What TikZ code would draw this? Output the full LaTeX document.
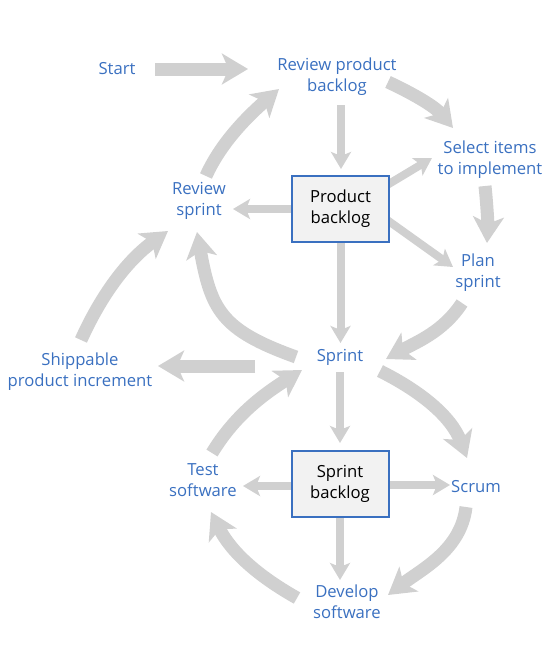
\documentclass[tikz,border=0pt]{standalone}
\usepackage{fontspec}
\setmainfont{Open Sans}
\usetikzlibrary{arrows.meta,backgrounds}

\definecolor{flowblue}{RGB}{58,112,192}
\definecolor{flowgrey}{RGB}{208,208,208}
\definecolor{boxfill}{RGB}{242,242,242}

\tikzset{every picture/.style={line width=0.75pt}}
\tikzset{
	lbl/.style={text=flowblue, align=center, inner sep=2pt, font=\fontsize{12.5}{15.75}\selectfont},
	backlog/.style={draw=flowblue, line width=1.5pt, fill=boxfill, align=center, outer sep=0pt,
		minimum width=72.75pt, minimum height=49.5pt, font=\fontsize{12.5}{15.75}\selectfont},
	bigarrow/.style={draw=flowgrey, line width=9.75pt, -{Stealth[length=19.5pt,width=23pt,inset=5pt]}},
	smallarrow/.style={draw=flowgrey, line width=6pt, -{Stealth[length=12.75pt,width=15pt,inset=3pt]}}
}

\begin{document}
\begin{tikzpicture}[x=0.75pt,y=0.75pt,yscale=-1,xscale=1]
	\useasboundingbox (0,0) rectangle (553,647);

	% Text Node
	\draw (117,69) node [lbl] (start) {Start};
	% Text Node
	\draw (337,77) node [lbl] (rpb) {Review product\\backlog};
	% Text Node
	\draw (490,160) node [lbl] (sel) {Select items\\to implement};
	% Text Node
	\draw (199,201) node [lbl] (rs) {Review\\sprint};
	% Text Node
	\draw (478,273) node [lbl] (plan) {Plan\\sprint};
	% Text Node
	\draw (340,357) node [lbl] (sprint) {Sprint};
	% Text Node
	\draw (80,372) node [lbl] (ship) {Shippable\\product increment};
	% Text Node
	\draw (203,480) node [lbl] (test) {Test\\software};
	% Text Node
	\draw (476,487) node [lbl] (scrum) {Scrum};
	% Text Node
	\draw (347,602) node [lbl] (dev) {Develop\\software};
	% Shape: Rectangle
	\draw (340.5,209) node [backlog] (pb) {Product\\backlog};
	% Shape: Rectangle
	\draw (340,484) node [backlog] (sb) {Sprint\\backlog};

	\begin{scope}[on background layer]
	%Straight Lines
	\draw [bigarrow] ([shift={(38,0)}]start.center) -- ([shift={(-89,-8)}]rpb.center);
	\draw [bigarrow] ([shift={(-85,9)}]sprint.center) -- ([shift={(78,-6)}]ship.center);
	\draw [smallarrow] ([shift={(4,28)}]rpb.center) -- ([shift={(0.5,-7)}]pb.north);
	\draw [smallarrow] (pb.center) -- ([shift={(0.5,-14)}]sprint.center);
	\draw [smallarrow] ([shift={(0,15)}]sprint.center) -- ([shift={(0,-8)}]sb.north);
	\draw [smallarrow] ([shift={(-40,0)}]pb.center) -- ([shift={(34,8)}]rs.center);
	\draw [smallarrow] ([shift={(20,-8)}]pb.center) -- ([shift={(-58,-2)}]sel.center);
	\draw [smallarrow] ([shift={(20,-8)}]pb.center) -- ([shift={(-25,-6)}]plan.center);
	\draw [smallarrow] ([shift={(-40,2)}]sb.center) -- ([shift={(40,6)}]test.center);
	\draw [smallarrow] ([shift={(40,1)}]sb.center) -- ([shift={(-26,-2)}]scrum.center);
	\draw [smallarrow] ([shift={(0,20)}]sb.center) -- ([shift={(-7,-22)}]dev.center);

	%Curve Lines
	\draw [bigarrow] ([shift={(7,-25)}]rs.center) .. controls (221.5,141.3) and (250.3,113.9) .. ([shift={(-58,12)}]rpb.center);
	\draw [bigarrow] ([shift={(51,5)}]rpb.center) .. controls (413.4,93.8) and (435,106.6) .. ([shift={(-37,-32)}]sel.center);
	\draw [bigarrow] ([shift={(-5,26)}]sel.center) .. controls (487,205) and (488,225) .. ([shift={(9,-30)}]plan.center);
	\draw [bigarrow] ([shift={(-16,30)}]plan.center) .. controls (443,332) and (416.5,342) .. ([shift={(46,2)}]sprint.center);
	\draw [bigarrow] ([shift={(-44,0)}]sprint.center) .. controls (221,330) and (211,310) .. ([shift={(-2,31)}]rs.center);
	\draw [bigarrow] ([shift={(40,14)}]sprint.center) .. controls (420,391) and (451,416) .. ([shift={(-9,-29)}]scrum.center);
	\draw [bigarrow] ([shift={(-10,20)}]scrum.center) .. controls (461,550) and (422,569) .. ([shift={(41,-7)}]dev.center);
	\draw [bigarrow] ([shift={(-50,-4)}]dev.center) .. controls (258,576) and (231,552) .. ([shift={(8,32)}]test.center);
	\draw [bigarrow] ([shift={(9,-27)}]test.center) .. controls (235,415) and (264,394) .. ([shift={(-38,13)}]sprint.center);
	\draw [bigarrow] ([shift={(1,-32)}]ship.center) .. controls (101.5,294.5) and (127.5,260) .. ([shift={(-31,30)}]rs.center);
	\end{scope}

\end{tikzpicture}
\end{document}
